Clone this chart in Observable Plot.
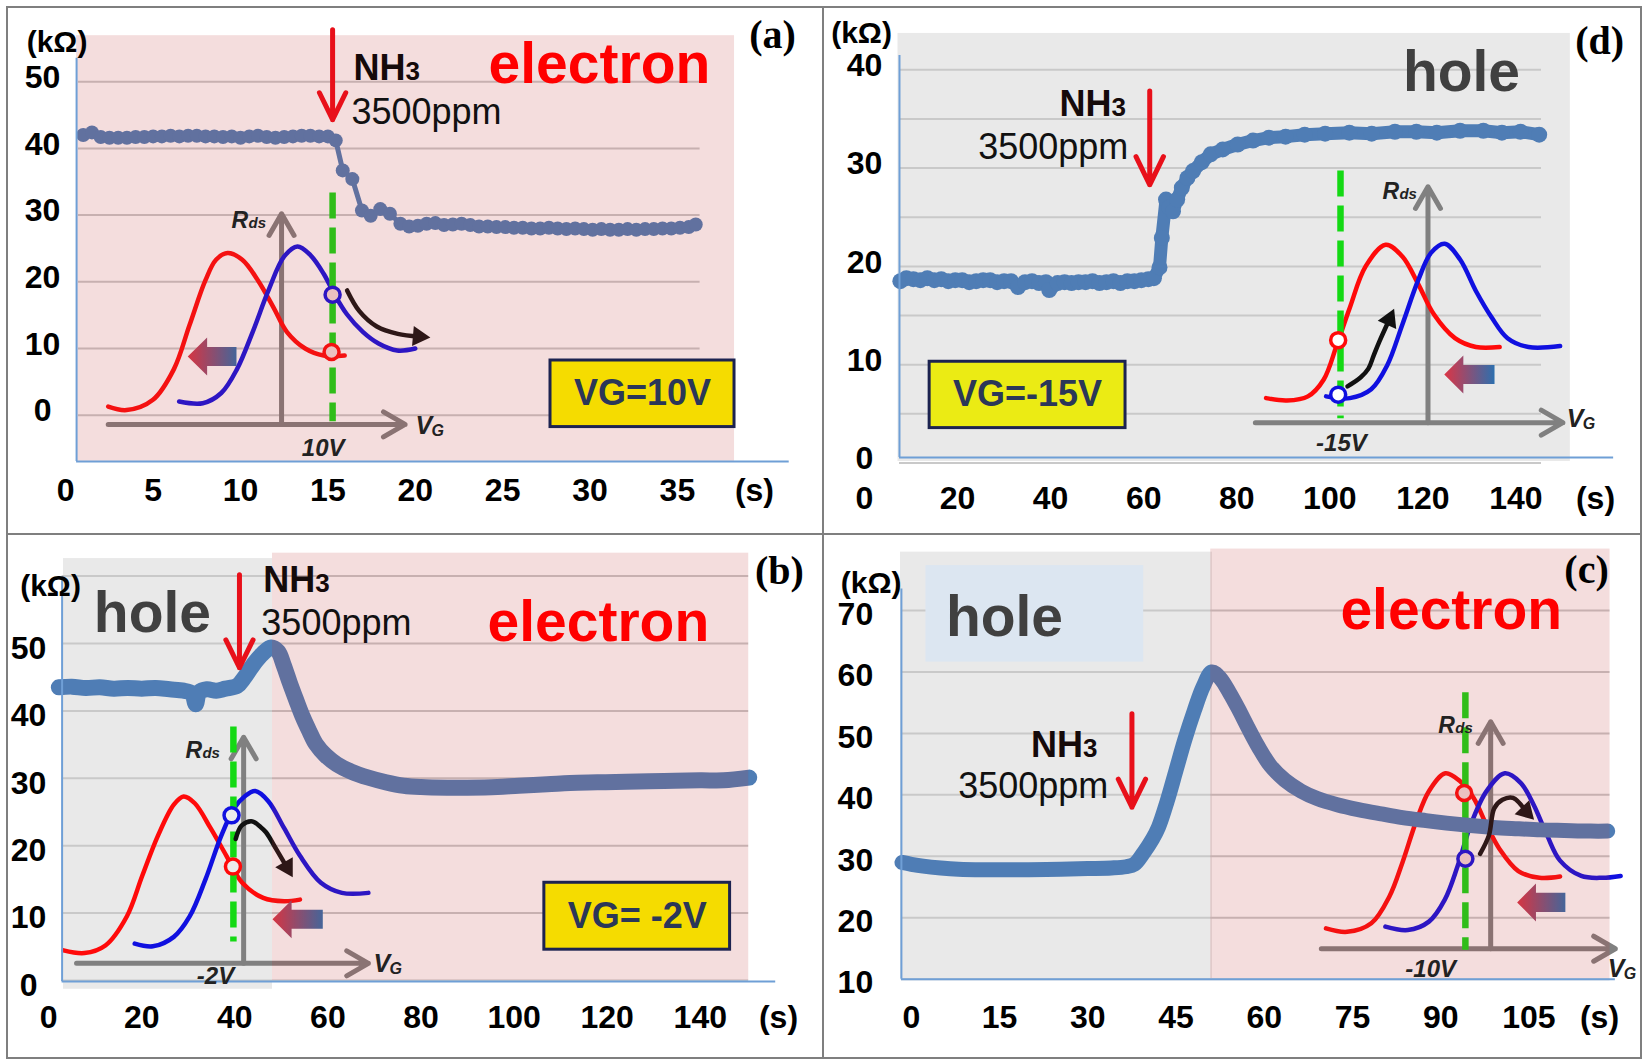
<!DOCTYPE html>
<html><head><meta charset="utf-8"><title>NH3 response</title>
<script src="https://cdn.jsdelivr.net/npm/d3@7"></script>
<script src="https://cdn.jsdelivr.net/npm/@observablehq/plot@0.6"></script>
<style>
html,body{margin:0;padding:0;background:#fff;}
#fig{position:relative;width:1647px;height:1061px;overflow:hidden;background:#fff;}
#fig > svg{position:absolute;left:0;top:0;}
.bd{position:absolute;background:#7f7f7f;}
</style></head>
<body>
<svg width="0" height="0" style="position:absolute"><defs>
<linearGradient id="gradArrow" x1="0" y1="0" x2="1" y2="0"><stop offset="0" stop-color="#dc3545"/><stop offset="1" stop-color="#2d6fae"/></linearGradient>
</defs></svg>
<div id="fig"></div>
<script>
// ================= DATA =================
// Panel (a): VG = 10 V  [time (s), R (kOhm)]
const seriesA = [[1.0,42.0],[1.5,42.4],[2.0,41.7],[2.5,41.6],[3.0,41.6],[3.5,41.6],[4.0,41.7],[4.5,41.7],[5.0,41.8],[5.5,41.8],[6.0,41.9],[6.5,41.8],[7.0,41.9],[7.5,41.9],[8.0,41.8],[8.5,41.8],[9.0,41.7],[9.5,41.8],[10.0,41.6],[10.5,41.8],[11.0,41.9],[11.5,41.7],[12.0,41.6],[12.5,41.7],[13.0,41.8],[13.5,41.9],[14.0,41.9],[14.5,41.8],[15.0,41.8],
 [15.45,41.2],[15.85,36.7],[16.4,35.4],[16.95,30.7],[17.45,29.9],[18.0,30.9],[18.55,30.2],[19.15,28.7],
 [19.65,28.3],[20.15,28.4],[20.65,28.7],[21.15,28.8],[21.65,28.5],[22.15,28.6],[22.65,28.7],[23.15,28.5],[23.65,28.3],[24.15,28.3],[24.65,28.2],[25.15,28.2],[25.65,28.1],[26.15,28.1],[26.65,28.0],[27.15,28.0],[27.65,28.1],[28.15,28.0],[28.65,27.9],[29.15,28.0],[29.65,27.9],[30.15,27.8],[30.65,27.9],[31.15,27.8],[31.65,27.8],[32.15,27.9],[32.65,27.8],[33.15,27.9],[33.65,27.9],[34.15,28.0],[34.65,28.0],[35.15,28.1],[35.65,28.2],[36.05,28.6]];
const xTicksA = [0,5,10,15,20,25,30,35];
const yTicksA = [0,10,20,30,40,50];
const gridA = [0,10,20,30,40,50];
const redCurveA = [[2.43,1.29],[3.48,0.77],[4.99,2.31],[6.19,6.91],[7.09,13.56],[7.99,20.2],[8.6,23.3],[9.26,24.3],[10.1,23.3],[11.0,20.2],[11.9,16.1],[12.65,12.5],[13.7,10.0],[14.76,8.95],[15.96,8.95]];
const blueCurveA = [[6.49,2.05],[7.84,1.8],[8.9,3.33],[9.8,6.91],[10.7,12.5],[11.6,18.7],[12.5,23.8],[13.26,25.3],[14.0,24.0],[14.76,21.2],[15.36,18.2],[16.1,15.1],[17.0,12.5],[17.9,10.75],[18.97,9.7],[20.0,10.0]];
const blackArrowA = [[16.1,18.7],[16.8,15.6],[17.8,13.3],[19.0,12.2],[20.2,11.8]];
const gradArrowA = [[6.98,8.8],[8.09,11.65],[8.09,10.22],[9.77,10.22],[9.77,7.38],[8.09,7.38],[8.09,5.95]];

// Panel (d): VG = -15 V
const seriesD = [[7.7,18.5],[9,18.8],[10.5,18.7],[12,18.6],[13.5,18.8],[15,18.6],[16.5,18.7],[18,18.5],[19.5,18.6],[21,18.6],[22.5,18.4],[24,18.5],[25.5,18.6],[27,18.6],[28.5,18.4],[30,18.5],[31.5,18.5],[33,17.9],[34.5,18.4],[36,18.5],[37.5,18.3],[39,18.4],[39.7,17.6],[41.5,18.3],[43,18.4],[44.5,18.3],[46,18.4],[47.5,18.4],[49,18.5],[50.5,18.3],[52,18.4],[53.5,18.5],[55,18.3],[56.5,18.5],[58,18.5],[59.5,18.6],[61,18.7],
 [62.2,18.8],[63.4,19.9],[63.9,22.9],[64.8,26.8],[65.5,26.0],[66.3,25.6],[67.2,26.8],[68.2,28.0],[69.4,29.0],[70.6,29.7],[72.5,30.6],[74.4,31.4],[77,31.9],[80.2,32.4],[83.5,32.8],[86.9,33.1],[90.5,33.2],[94.6,33.4],[99,33.5],[104.2,33.6],[109,33.5],[114,33.7],[118.6,33.7],[123,33.6],[128,33.8],[133,33.8],[137,33.6],[141,33.7],[145,33.4]];
const xTicksD = [0,20,40,60,80,100,120,140];
const yTicksD = [0,10,20,30,40];
const gridD = [0,5,10,15,20,25,30,35,40];
const redCurveD = [[86.3,6.6],[90.8,6.36],[95.3,6.78],[98.7,8.5],[101.5,12.0],[104.3,15.8],[107.7,20.0],[112.0,22.2],[115.6,21.0],[119.0,18.2],[122.4,15.1],[126.9,12.7],[131.4,11.8],[136.5,11.8]];
const blueCurveD = [[99.2,6.78],[104.3,6.6],[108.9,7.5],[112.3,9.9],[115.6,14.1],[119.0,18.6],[121.8,21.4],[124.7,22.3],[128.0,20.7],[131.4,17.5],[134.8,14.8],[138.2,12.7],[142.7,11.8],[149.5,11.9]];
const blackArrowD = [[103.8,7.8],[106.6,8.7],[108.3,9.6],[109.4,10.9],[110.6,12.3],[112.8,14.6]];
const gradArrowD = [[124.6,9.0],[128.7,10.93],[128.7,9.97],[135.4,9.97],[135.4,8.03],[128.7,8.03],[128.7,7.07]];

// Panel (b): VG = -2 V
const seriesB = [[2.2,43.5],[5,43.6],[8,43.4],[11,43.5],[14,43.3],[17,43.4],[20,43.3],[23,43.4],[26,43.2],[29,43.0],[30.8,42.6],[31.6,41.0],[32.4,42.8],[34,43.2],[36,43.0],[38,43.3],[40.5,43.7],[42,44.9],[44.1,47.0],[46,48.5],[47.8,49.4],[49.3,48.8],[50.5,46.8],[51.8,44.2],[53.2,41.6],[54.6,39.1],[56,37.0],[57.4,35.1],[59.5,33.4],[61.9,32.1],[65,31.0],[68.7,30.1],[72.5,29.4],[76.3,28.9],[80,28.7],[85.6,28.6],[90,28.6],[96.4,28.7],[101,28.9],[107.1,29.1],[112,29.3],[117.9,29.4],[124,29.5],[132.2,29.6],[140,29.7],[145,29.7],[150.5,30.1]];
const xTicksB = [0,20,40,60,80,100,120,140];
const yTicksB = [0,10,20,30,40,50];
const gridB = [0,10,20,30,40,50,60];
const redCurveB = [[3.2,4.47],[7.7,4.07],[12.2,5.2],[16.8,9.5],[20.1,15.5],[23.5,21.5],[26.9,26.1],[29.0,27.3],[31.4,26.3],[34.8,22.6],[38.2,18.5],[41.6,14.5],[46.1,12.25],[50.6,11.75],[54.0,12.0]];
const blueCurveB = [[18.5,5.47],[22.4,5.07],[26.9,6.47],[30.3,9.5],[33.7,15.0],[37.1,21.5],[39.9,25.6],[42.1,27.3],[44.4,28.1],[47.2,26.6],[50.6,22.6],[54.0,18.5],[58.5,14.5],[63.0,13.0],[68.7,13.0]];
const blackArrowB = [[40.2,21.0],[41.5,23.0],[43.8,23.6],[45.5,22.8],[46.7,22.0],[48.9,19.5],[51.2,16.8]];
const gradArrowB = [[48.1,9.1],[52.2,11.92],[52.2,10.51],[58.9,10.51],[58.9,7.69],[52.2,7.69],[52.2,6.28]];

// Panel (c): VG = -10 V
const seriesC = [[-1.6,29.0],[0,28.7],[2,28.4],[5,28.1],[8,27.9],[12,27.8],[16,27.8],[20,27.8],[25.4,27.9],[30,28.0],[34,28.1],[36.5,28.3],[37.9,28.7],[39.5,30.6],[41,32.8],[42,34.7],[43.5,39.0],[45,44.0],[46.5,49.0],[48.1,53.7],[49.6,57.6],[51.1,60.0],[52.5,59.0],[54.1,56.6],[55.6,54.0],[57.2,51.0],[59,47.8],[61,44.8],[63.5,42.4],[66.3,40.6],[69,39.4],[72.4,38.4],[76,37.6],[79.9,36.9],[83.5,36.3],[87.5,35.8],[91,35.4],[95.1,35.0],[99,34.7],[102.7,34.5],[107,34.3],[111,34.2],[115.5,34.1],[118.4,34.1]];
const xTicksC = [0,15,30,45,60,75,90,105];
const yTicksC = [10,20,30,40,50,60,70];
const gridC = [10,20,30,40,50,60,70];
const redCurveC = [[70.5,18.27],[74.1,17.71],[78.2,19.1],[81.3,23.5],[83.5,29.0],[85.8,35.6],[88.0,40.6],[90.8,43.5],[93.3,42.2],[95.6,39.5],[97.8,35.1],[100.0,31.2],[103.2,27.6],[106.8,26.5],[110.3,26.7]];
const blueCurveC = [[80.6,18.55],[84.4,17.99],[88.0,19.37],[90.7,22.95],[92.9,28.45],[95.1,35.1],[97.8,40.6],[100.9,43.5],[103.6,41.96],[105.8,38.4],[108.1,33.4],[110.3,29.3],[113.9,26.8],[117.5,26.5],[120.6,26.8]];
const blackArrowC = [[96.7,30.4],[98.2,33.4],[99.1,37.8],[100.5,39.2],[102.3,39.5],[104.5,37.3]];
const gradArrowC = [[103.0,22.5],[106.2,25.59],[106.2,24.05],[111.2,24.05],[111.2,20.95],[106.2,20.95],[106.2,19.41]];

// ================= STYLE =================
const W = 1647, H = 1061;
const SANS = "'Liberation Sans', Arial, sans-serif";
const NARROW = "'Liberation Sans Narrow', 'Arial Narrow', 'Liberation Sans', sans-serif";
const SERIF = "'Liberation Serif', 'Times New Roman', serif";
const SERIES = "#4f7db5";
const OVERLAY = "rgb(190,55,55)";
const GREEN = "#14d914", RED = "#ff0a0a", BLUEC = "#1010e0", GRAYAX = "#808080", ARROWRED = "#e8101a";

function txt(s, x, y, o) {
  return Plot.text([s], Object.assign({x, y, text: d => d, fontFamily: SANS, lineAnchor: "bottom", fill: "#111"}, o));
}
function rect(r, o) {
  return Plot.rect([r], Object.assign({x1: "x1", x2: "x2", y1: "y1", y2: "y2"}, o));
}
function arrow(a, o) {
  return Plot.arrow([a], Object.assign({x1: "x1", y1: "y1", x2: "x2", y2: "y2"}, o));
}

function buildPanel(p) {
  const m = [];
  if (p.gray) m.push(rect(p.gray, {fill: "#e9e9e9"}));
  m.push(Plot.ruleY(p.grid, {x1: p.gridX[0], x2: p.gridX[1], stroke: "#c9c9c9", strokeWidth: 2}));
  // inset sketch (under the pink tint, like the original)
  const ins = p.inset;
  m.push(arrow({x1: ins.vgAxis[0], y1: ins.vgAxis[2], x2: ins.vgAxis[1], y2: ins.vgAxis[2]}, {stroke: GRAYAX, strokeWidth: 5, headLength: 7.5, headAngle: 60}));
  m.push(arrow({x1: ins.rdsAxis[0], y1: ins.rdsAxis[1], x2: ins.rdsAxis[0], y2: ins.rdsAxis[2]}, {stroke: GRAYAX, strokeWidth: 5, headLength: 7.5, headAngle: 60}));
  m.push(Plot.line(ins.red, {x: d => d[0], y: d => d[1], stroke: RED, strokeWidth: 4.5, curve: "catmull-rom"}));
  m.push(Plot.line(ins.blue, {x: d => d[0], y: d => d[1], stroke: BLUEC, strokeWidth: 4.5, curve: "catmull-rom"}));
  m.push(Plot.ruleX([ins.green[0]], {y1: ins.green[1], y2: ins.green[2], stroke: GREEN, strokeWidth: 6.5, strokeDasharray: "26,9"}));
  m.push(Plot.dot([ins.blueDot], {x: d => d[0], y: d => d[1], r: 7.5, stroke: BLUEC, strokeWidth: 3.5, fill: p.dotFill}));
  m.push(Plot.dot([ins.redDot], {x: d => d[0], y: d => d[1], r: 7.5, stroke: RED, strokeWidth: 3.5, fill: p.dotFill}));
  m.push(Plot.line(ins.grad, {x: d => d[0], y: d => d[1], fill: "url(#gradArrow)", stroke: "none"}));
  // main series
  if (p.seriesStyle === "dots") {
    m.push(Plot.line(p.series, {x: d => d[0], y: d => d[1], stroke: SERIES, strokeWidth: 5}));
    m.push(Plot.dot(p.series, {x: d => d[0], y: d => d[1], r: 7, fill: SERIES}));
  } else if (p.seriesStyle === "dense") {
    m.push(Plot.line(p.series, {x: d => d[0], y: d => d[1], stroke: SERIES, strokeWidth: 13, strokeLinejoin: "round", strokeLinecap: "round"}));
    m.push(Plot.dot(p.series, {x: d => d[0], y: d => d[1], r: 8, fill: SERIES}));
  } else {
    m.push(Plot.line(p.series, {x: d => d[0], y: d => d[1], stroke: SERIES, strokeWidth: p.thick, curve: "catmull-rom", strokeLinejoin: "round", strokeLinecap: "round"}));
  }
  // black arrow
  const ba = ins.black;
  m.push(Plot.line(ba, {x: d => d[0], y: d => d[1], stroke: "#111", strokeWidth: 4.5, curve: "catmull-rom"}));
  m.push(Plot.dot([ba[ba.length - 1]], {x: d => d[0], y: d => d[1], symbol: "triangle", r: 7.5, fill: "#111", rotate: ins.headRot}));
  // pink translucent region
  if (p.pink) m.push(rect(p.pink, {fill: OVERLAY, fillOpacity: 0.17}));
  if (p.holeBox) m.push(rect(p.holeBox, {fill: "#dce6f1"}));
  // axis lines
  m.push(Plot.ruleX([p.axisT], {y1: p.axisV, y2: p.axisTop, stroke: "#6f9fd6", strokeWidth: 2}));
  m.push(Plot.ruleY([p.axisV], {x1: p.axisT, x2: p.axisRight, stroke: "#6f9fd6", strokeWidth: 2}));
  // tick labels
  const tick = {fontFamily: NARROW, fontWeight: "bold", fontSize: 32, fill: "#000"};
  m.push(Plot.text(p.yTicks, Object.assign({x: p.axisT, y: d => d, text: d => `${d}`, dx: p.yLabDx, dy: p.yLabDy, textAnchor: "middle"}, tick)));
  m.push(Plot.text(p.xTicks, Object.assign({x: d => d, y: p.axisV, text: d => `${d}`, dy: p.xLabDy, textAnchor: "middle"}, tick)));
  m.push(Plot.text(["(s)"], Object.assign({x: p.sPos, y: p.axisV, text: d => d, dy: p.xLabDy}, tick)));
  m.push(Plot.text(["(kΩ)"], Object.assign({x: p.unitPos[0], y: p.unitPos[1], text: d => d}, tick, {fontSize: 30})));
  m.push(txt(p.letter, p.letterPos[0], p.letterPos[1], {fontFamily: SERIF, fontWeight: "bold", fontSize: 40, lineAnchor: "middle", fill: "#000"}));
  // region labels
  for (const r of p.regions) {
    m.push(txt(r.text, r.pos[0], r.pos[1], {fontSize: 57, fontWeight: "bold", fill: r.color, textAnchor: "middle"}));
  }
  // NH3 annotation (the "3" is made smaller after rendering)
  const nh = p.nh3;
  m.push(txt("NH3", nh.nh[0], nh.nh[1], {fontSize: 36, fontWeight: "bold", textAnchor: "start", fill: "#150a0a"}));
  m.push(txt("3500ppm", nh.ppm[0], nh.ppm[1], {fontSize: 36, textAnchor: nh.ppmAnchor, fill: "#111"}));
  m.push(arrow({x1: nh.arrow[0], y1: nh.arrow[1], x2: nh.arrow[0], y2: nh.arrow[2]}, {stroke: ARROWRED, strokeWidth: 5, headLength: 10, headAngle: 52}));
  // VG box
  if (p.vgBox) {
    m.push(rect(p.vgBox.r, {fill: p.vgBox.fill, stroke: "#1c2350", strokeWidth: 3}));
    m.push(txt(p.vgBox.label, (p.vgBox.r.x1 + p.vgBox.r.x2) / 2, (p.vgBox.r.y1 + p.vgBox.r.y2) / 2, {fontSize: 36, fontWeight: "bold", textAnchor: "middle", lineAnchor: "middle", fill: "#2b3758"}));
  }
  // inset labels
  const it = {fontWeight: "bold", fontStyle: "italic", textAnchor: "start", fill: "#222"};
  m.push(txt("R", ins.rdsLab[0], ins.rdsLab[1], Object.assign({fontSize: 23}, it)));
  m.push(txt("ds", ins.rdsLab[0], ins.rdsLab[1], Object.assign({fontSize: 15, dx: 17}, it)));
  m.push(txt("V", ins.vgLab[0], ins.vgLab[1], Object.assign({fontSize: 25}, it)));
  m.push(txt("G", ins.vgLab[0], ins.vgLab[1], Object.assign({fontSize: 16, dx: 16, dy: 2}, it)));
  m.push(txt(ins.vLab, ins.vLabPos[0], ins.vLabPos[1], Object.assign({}, it, {fontSize: 24, textAnchor: "middle"})));

  return Plot.plot({
    width: W, height: H, margin: 0,
    x: {domain: p.xDomain, range: p.xRange, axis: null},
    y: {domain: p.yDomain, range: p.yRange, axis: null},
    style: {background: "transparent", overflow: "visible", fontFamily: SANS},
    marks: m
  });
}

const PINKFILL = "#f4dddd";
const panels = [
  { // (a)
    xDomain: [0, 40], xRange: [65.25, 764.25], yDomain: [0, 50], yRange: [414.7, 81.2],
    series: seriesA, seriesStyle: "dots", grid: gridA, gridX: [0.73, 36.3], xTicks: xTicksA, yTicks: yTicksA,
    axisT: 0.62, axisV: -6.95, axisTop: 53.5, axisRight: 41.4,
    yLabDx: -34, yLabDy: -4, xLabDy: 29.6, sPos: 39.41, unitPos: [-0.5, 55.95],
    letter: "(a)", letterPos: [40.45, 56.9],
    gray: null, pink: {x1: 0.62, x2: 38.27, y1: -6.92, y2: 56.9}, holeBox: null, dotFill: PINKFILL,
    regions: [{text: "electron", pos: [30.54, 49.75], color: "#ff0000"}],
    nh3: {nh: [16.47, 50.2], ppm: [16.35, 43.7], ppmAnchor: "start", arrow: [15.27, 57.8, 44.3]},
    vgBox: {r: {x1: 27.74, x2: 38.27, y1: -1.78, y2: 8.2}, fill: "#f5dc00", label: "VG=10V"},
    inset: {vgAxis: [2.43, 19.42, -1.38], rdsAxis: [12.35, -1.38, 30.2], red: redCurveA, blue: blueCurveA,
      green: [15.27, 33.3, -1.0], blueDot: [15.27, 18.07], redDot: [15.21, 9.47], grad: gradArrowA,
      black: blackArrowA, headRot: 95, rdsLab: [9.49, 28.0], vgLab: [20.01, -2.8], vLab: "10V", vLabPos: [14.73, -6.13]}
  },
  { // (d)
    xDomain: [0, 140], xRange: [864, 1515.42], yDomain: [0, 40], yRange: [462.5, 69.3],
    series: seriesD, seriesStyle: "dense", grid: gridD, gridX: [7.52, 145.5], xTicks: xTicksD, yTicks: yTicksD,
    axisT: 7.52, axisV: 0.56, axisTop: 41.45, axisRight: 161,
    yLabDx: -35, yLabDy: -4, xLabDy: 41.3, sPos: 157.1, unitPos: [-0.64, 43.7],
    letter: "(d)", letterPos: [158.0, 42.9],
    gray: {x1: 7.2, x2: 151.7, y1: 0.15, y2: 43.7}, pink: null, holeBox: null, dotFill: "#ffffff",
    regions: [{text: "hole", pos: [128.3, 37.85], color: "#404040"}],
    nh3: {nh: [41.9, 35.25], ppm: [56.7, 30.9], ppmAnchor: "end", arrow: [61.3, 37.85, 28.3]},
    vgBox: {r: {x1: 14.0, x2: 56.1, y1: 3.55, y2: 10.3}, fill: "#ebeb14", label: "VG=-15V"},
    inset: {vgAxis: [84.0, 150.1, 4.1], rdsAxis: [121.1, 4.1, 28.1], red: redCurveD, blue: blueCurveD,
      green: [102.3, 29.7, 4.5], blueDot: [101.8, 6.95], redDot: [101.8, 12.5], grad: gradArrowD,
      black: blackArrowD, headRot: 24, rdsLab: [111.3, 26.9], vgLab: [150.9, 3.65], vLab: "-15V", vLabPos: [102.5, 1.22]}
  },
  { // (b)
    xDomain: [0, 140], xRange: [48.1, 699.8], yDomain: [0, 60], yRange: [980, 575.6],
    series: seriesB, seriesStyle: "thick", thick: 16, grid: gridB, gridX: [2.9, 150.4], xTicks: xTicksB, yTicks: yTicksB,
    axisT: 2.9, axisV: -0.15, axisTop: 59.8, axisRight: 156.2,
    yLabDx: -33.5, yLabDy: 5, xLabDy: 36.6, sPos: 156.8, unitPos: [0.41, 58.5],
    letter: "(b)", letterPos: [157.0, 60.75],
    gray: {x1: 3.2, x2: 48.1, y1: -1.3, y2: 62.6}, pink: {x1: 48.1, x2: 150.4, y1: 0, y2: 63.4}, holeBox: null, dotFill: "#ececec",
    regions: [{text: "hole", pos: [22.3, 51.7], color: "#404040"}, {text: "electron", pos: [118.1, 50.4], color: "#ff0000"}],
    nh3: {nh: [46.1, 57.57], ppm: [45.7, 51.3], ppmAnchor: "start", arrow: [41.0, 60.2, 46.4]},
    vgBox: {r: {x1: 106.5, x2: 146.4, y1: 4.57, y2: 14.5}, fill: "#f5dc00", label: "VG= -2V"},
    inset: {vgAxis: [6.0, 68.7, 2.55], rdsAxis: [41.9, 2.55, 36.1], red: redCurveB, blue: blueCurveB,
      green: [39.7, 37.6, 5.7], blueDot: [39.3, 24.5], redDot: [39.6, 16.9], grad: gradArrowB,
      black: blackArrowB, headRot: 150, rdsLab: [29.4, 33.0], vgLab: [69.8, 1.19], vLab: "-2V", vLabPos: [35.85, -0.56]}
  },
  { // (c)
    xDomain: [0, 105], xRange: [910.9, 1528.4], yDomain: [10, 70], yRange: [978.7, 610.0],
    series: seriesC, seriesStyle: "thick", thick: 15, grid: gridC, gridX: [-1.7, 118.8], xTicks: xTicksC, yTicks: yTicksC,
    axisT: -1.7, axisV: 10, axisTop: 73.5, axisRight: 119.7,
    yLabDx: -46, yLabDy: 4, xLabDy: 39, sPos: 117.0, unitPos: [-6.84, 74.47],
    letter: "(c)", letterPos: [114.8, 76.5],
    gray: {x1: -1.85, x2: 51.2, y1: 10.1, y2: 79.5}, pink: {x1: 50.9, x2: 118.8, y1: 10.1, y2: 80.0},
    holeBox: {x1: 2.47, x2: 39.5, y1: 61.6, y2: 77.3}, dotFill: PINKFILL,
    regions: [{text: "hole", pos: [15.83, 65.93], color: "#404040"}, {text: "electron", pos: [91.8, 67.04], color: "#ff0000"}],
    nh3: {nh: [20.35, 46.13], ppm: [33.48, 39.49], ppmAnchor: "end", arrow: [37.5, 53.2, 38.0]},
    vgBox: null,
    inset: {vgAxis: [69.7, 119.7, 14.96], rdsAxis: [98.5, 14.96, 51.9], red: redCurveC, blue: blueCurveC,
      green: [94.2, 56.6, 14.7], blueDot: [94.2, 29.6], redDot: [94.0, 40.3], grad: gradArrowC,
      black: blackArrowC, headRot: 136, rdsLab: [89.6, 50.06], vgLab: [118.4, 10.28], vLab: "-10V", vLabPos: [88.3, 10.4]}
  }
];

const fig = document.getElementById("fig");
for (const p of panels) fig.appendChild(buildPanel(p));

// make the "3" of NH3 smaller, as in the original (still one text element)
for (const t of fig.querySelectorAll("text")) {
  if (t.textContent === "NH3") {
    t.textContent = "NH";
    const s = document.createElementNS("http://www.w3.org/2000/svg", "tspan");
    s.setAttribute("font-size", "26");
    s.textContent = "3";
    t.appendChild(s);
  }
}

// panel frame lines
for (const b of [
  {l: 6, t: 6, w: 1636, h: 2}, {l: 6, t: 1057, w: 1636, h: 2},
  {l: 6, t: 6, w: 2, h: 1053}, {l: 1640, t: 6, w: 2, h: 1053},
  {l: 822, t: 6, w: 2, h: 1053}, {l: 6, t: 533, w: 1636, h: 2}
]) {
  const d = document.createElement("div");
  d.className = "bd";
  d.style.cssText = `left:${b.l}px;top:${b.t}px;width:${b.w}px;height:${b.h}px`;
  fig.appendChild(d);
}
</script>
</body></html>
